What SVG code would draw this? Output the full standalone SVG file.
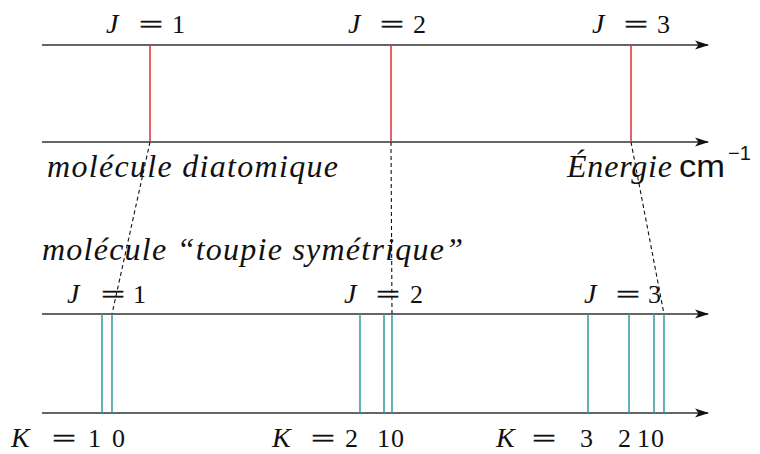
<svg xmlns="http://www.w3.org/2000/svg" width="760" height="454" viewBox="0 0 760 454">
<style>
.ax{stroke:#333;stroke-width:1.6;fill:none}
.red{stroke:#e8383a;stroke-width:1.6}
.cy{stroke:#3a9fa6;stroke-width:1.6}
.dash{stroke:#111;stroke-width:1.1;stroke-dasharray:4 3;fill:none}
text{fill:#111;font-family:"Liberation Serif","Times New Roman",serif}
.it{font-style:italic;font-size:28px}
.lab{font-size:26px}
.eq{stroke:#111;stroke-width:0.5}
.big{font-size:32px;font-style:italic}
.sans{font-family:"Liberation Sans",Arial,sans-serif;font-style:normal}
</style>
<defs>
<marker id="arr" markerUnits="userSpaceOnUse" markerWidth="14" markerHeight="10" refX="13" refY="5" orient="auto" viewBox="0 0 14 10">
<path d="M0,0.5 L14,5 L0,9.5 L3.5,5 Z" fill="#111"/>
</marker>
</defs>
<g id="axes">
<line class="ax" x1="42" y1="45" x2="708" y2="45" marker-end="url(#arr)"/>
<line class="ax" x1="42" y1="142" x2="708" y2="142" marker-end="url(#arr)"/>
<line class="ax" x1="42" y1="314" x2="708" y2="314" marker-end="url(#arr)"/>
<line class="ax" x1="42" y1="413" x2="708" y2="413" marker-end="url(#arr)"/>
</g>
<g id="diatomic-levels">
<line class="red" x1="150" y1="45" x2="150" y2="142"/>
<line class="red" x1="391" y1="45" x2="391" y2="142"/>
<line class="red" x1="631" y1="45" x2="631" y2="142"/>
</g>
<g id="top-levels">
<line class="cy" x1="102" y1="314" x2="102" y2="413"/>
<line class="cy" x1="112" y1="314" x2="112" y2="413"/>
<line class="cy" x1="360" y1="314" x2="360" y2="413"/>
<line class="cy" x1="384" y1="314" x2="384" y2="413"/>
<line class="cy" x1="392" y1="314" x2="392" y2="413"/>
<line class="cy" x1="588" y1="314" x2="588" y2="413"/>
<line class="cy" x1="629" y1="314" x2="629" y2="413"/>
<line class="cy" x1="654" y1="314" x2="654" y2="413"/>
<line class="cy" x1="664" y1="314" x2="664" y2="413"/>
</g>
<g id="connectors">
<line class="dash" x1="150" y1="142" x2="112" y2="314"/>
<line class="dash" x1="391" y1="142" x2="392" y2="314"/>
<line class="dash" x1="631" y1="142" x2="664" y2="314"/>
</g>
<g id="labels-top" class="lab">
<text class="it" x="106" y="33">J</text><text class="eq" x="139" y="33" textLength="24" lengthAdjust="spacingAndGlyphs">=</text><text x="172" y="33">1</text>
<text class="it" x="348" y="33">J</text><text class="eq" x="380" y="33" textLength="24" lengthAdjust="spacingAndGlyphs">=</text><text x="413" y="33">2</text>
<text class="it" x="592" y="33">J</text><text class="eq" x="624" y="33" textLength="24" lengthAdjust="spacingAndGlyphs">=</text><text x="657" y="33">3</text>
</g>
<g id="titles" class="big">
<text x="47" y="177" textLength="291" lengthAdjust="spacing">molécule diatomique</text>
<text x="567" y="177" textLength="105" lengthAdjust="spacing">Énergie</text>
<text class="sans" x="679" y="177" font-size="32" textLength="46" lengthAdjust="spacingAndGlyphs">cm</text>
<text class="sans" x="728" y="160" font-size="20">−1</text>
<text x="42" y="260" textLength="421" lengthAdjust="spacing">molécule “toupie symétrique”</text>
</g>
<g id="labels-mid" class="lab">
<text class="it" x="67" y="303">J</text><text class="eq" x="101" y="303" textLength="24" lengthAdjust="spacingAndGlyphs">=</text><text x="133" y="303">1</text>
<text class="it" x="344" y="303">J</text><text class="eq" x="376" y="303" textLength="24" lengthAdjust="spacingAndGlyphs">=</text><text x="410" y="303">2</text>
<text class="it" x="584" y="303">J</text><text class="eq" x="616" y="303" textLength="24" lengthAdjust="spacingAndGlyphs">=</text><text x="648" y="303">3</text>
</g>
<g id="labels-bottom" class="lab">
<text class="it" x="11" y="447">K</text><text class="eq" x="52" y="447" textLength="24" lengthAdjust="spacingAndGlyphs">=</text><text x="88" y="447">1</text><text x="112" y="447">0</text>
<text class="it" x="272" y="447">K</text><text class="eq" x="311" y="447" textLength="24" lengthAdjust="spacingAndGlyphs">=</text><text x="345" y="447">2</text><text x="377" y="447">1</text><text x="391" y="447">0</text>
<text class="it" x="496" y="447">K</text><text class="eq" x="532" y="447" textLength="24" lengthAdjust="spacingAndGlyphs">=</text><text x="580" y="447">3</text><text x="618" y="447">2</text><text x="637" y="447">1</text><text x="651" y="447">0</text>
</g>
</svg>
